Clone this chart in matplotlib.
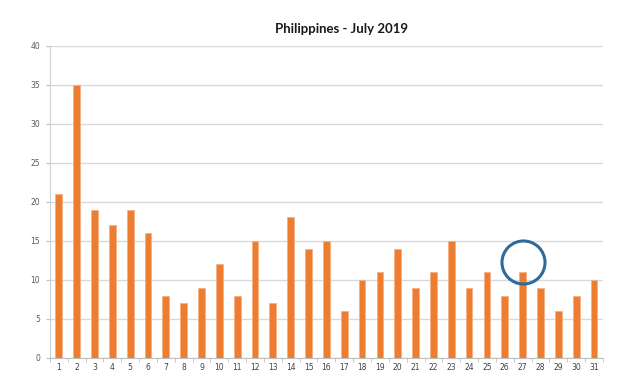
import matplotlib
matplotlib.use("Agg")
import matplotlib.pyplot as plt
import numpy as np

days = list(range(1, 32))
counts = [21, 35, 19, 17, 19, 16, 8, 7, 9, 12, 8, 15, 7, 18, 14, 15,
          6, 10, 11, 14, 9, 11, 15, 9, 11, 8, 11, 9, 6, 8, 10]
highlight_day = 27
highlight_y = 12.3

fig = plt.figure(figsize=(6.4, 3.82), dpi=100)
ax = fig.add_axes([0.078, 0.063, 0.864, 0.817])

x = np.arange(len(days))
ax.bar(x, counts, width=0.38, color='#ED7D31', edgecolor='#F4B183', linewidth=0.6, zorder=3)

# circled day
ax.plot(days.index(highlight_day), highlight_y, marker='o', markersize=31,
        markerfacecolor='none', markeredgecolor='#2E6A9A', markeredgewidth=2.2,
        zorder=4, clip_on=False)

ax.set_xlim(-0.5, len(days) - 0.5)
ax.set_ylim(0, 40)
ax.set_yticks(range(0, 41, 5))
ax.set_xticks(x)
ax.set_xticklabels([str(d) for d in days])
ax.set_xticks(np.arange(-0.5, len(days), 1), minor=True)
ax.tick_params(axis='x', which='major', length=0, labelsize=5.5, labelcolor='#404040', pad=4)
ax.tick_params(axis='x', which='minor', length=3, color='#bfbfbf')
ax.tick_params(axis='y', length=3, color='#bfbfbf', labelsize=5.5, labelcolor='#595959', pad=4)

ax.grid(axis='y', color='#d9d9d9', linewidth=1.0, zorder=0)
for s in ['top', 'right']:
    ax.spines[s].set_visible(False)
ax.spines['left'].set_color('#d0d0d0')
ax.spines['bottom'].set_color('#bfbfbf')

fig.text(0.534, 0.924, 'Philippines - July 2019', ha='center', va='center',
         fontsize=9.5, fontweight='bold', family='Lato', color='#1a1a1a')

fig.savefig('out.png', dpi=100)
